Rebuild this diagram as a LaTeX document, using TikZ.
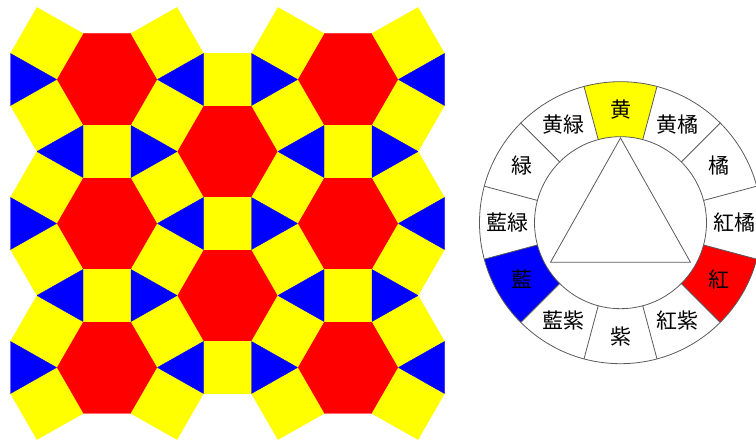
\documentclass[tikz,border=0pt]{standalone}
\usepackage{fontspec}
\newfontfamily\jpfont{Noto Sans CJK JP}
\usepackage{tikz}
\usetikzlibrary{calc}
\definecolor{tileRed}{RGB}{255,0,0}
\definecolor{tileYellow}{RGB}{255,255,0}
\definecolor{tileBlue}{RGB}{0,0,255}
\definecolor{wheelLine}{RGB}{90,90,90}

\begin{document}
\begin{tikzpicture}[x=1pt,y=1pt]
\tikzset{tile/.style={line width=0.4pt, line join=round},
  ring/.style={wheelLine, line width=0.8pt},
  hue/.style={font=\jpfont\fontsize{21}{21}\selectfont, inner sep=0pt}}
\useasboundingbox (0,0) rectangle (756,443);
\clip (0,0) rectangle (756,443);
% tiling
\begin{scope}[shift={(107,363.5)}]
\foreach \i/\k in {0/0,0/2,0/4,1/1,1/3,2/0,2/2,2/4}
{
\filldraw[tileRed, tile, shift={({\i*120.5},{-\k*72})}] (50.5,0) -- (24,46) -- (-24,46) -- (-50.5,0) -- (-24,-46) -- (24,-46) -- cycle;
}
\foreach \i/\k in {0/1,0/3,1/0,1/2,1/4,2/1,2/3}
{
\filldraw[tileYellow, tile, shift={({\i*120.5},{-\k*72})}] (-24,-26) rectangle (24,26);
}
\foreach \a in {-1,...,2}
{
\foreach \b in {-1,...,4}
{
\pgfmathtruncatemacro{\s}{1-2*mod(\a+\b+4,2)}
\filldraw[tileYellow, tile, shift={({(\a+0.5)*120.5},{-(\b+0.5)*72})}, yscale=\s] (-9.75,36) -- (36.25,10) -- (9.75,-36) -- (-36.25,-10) -- cycle;
}
}
\foreach \i/\k/\d in {0/0/1,0/2/1,0/4/1,1/1/1,1/3/1,2/0/1,2/2/1,2/4/1,-1/1/1,-1/3/1,0/0/-1,0/2/-1,0/4/-1,1/1/-1,1/3/-1,2/0/-1,2/2/-1,2/4/-1,3/1/-1,3/3/-1}
{
\filldraw[tileBlue, tile, shift={({\i*120.5},{-\k*72})}, xscale=\d] (50.5,0) -- (96.5,26) -- (96.5,-26) -- cycle;
}
\end{scope}
% colour wheel
\begin{scope}[shift={(620.5,220.3)}]
\foreach \c/\t in {tileYellow/75,tileRed/315,tileBlue/195}
{
\fill[\c] (\t:141) arc[start angle=\t, end angle=\t+30, radius=141] -- (\t+30:86) arc[start angle=\t+30, end angle=\t, radius=86] -- cycle;
}
\draw[ring] (0,0) circle (141);
\draw[ring] (0,0) circle (86);
\foreach \t in {75,105,...,405}
{
\draw[ring] (\t:86) -- (\t:141);
}
\draw[ring] (0,84.7) -- (-70,-39.6) -- (70,-39.6) -- cycle;
\foreach \t/\txt in {90/黄,60/黄橘,30/橘,0/紅橘,-30/紅,-60/紅紫,-90/紫,-120/藍紫,-150/藍,180/藍緑,150/緑,120/黄緑}
{
\node[hue] (hue\t) at (\t:113.5) {\txt};
}
\end{scope}
\end{tikzpicture}
\end{document}
